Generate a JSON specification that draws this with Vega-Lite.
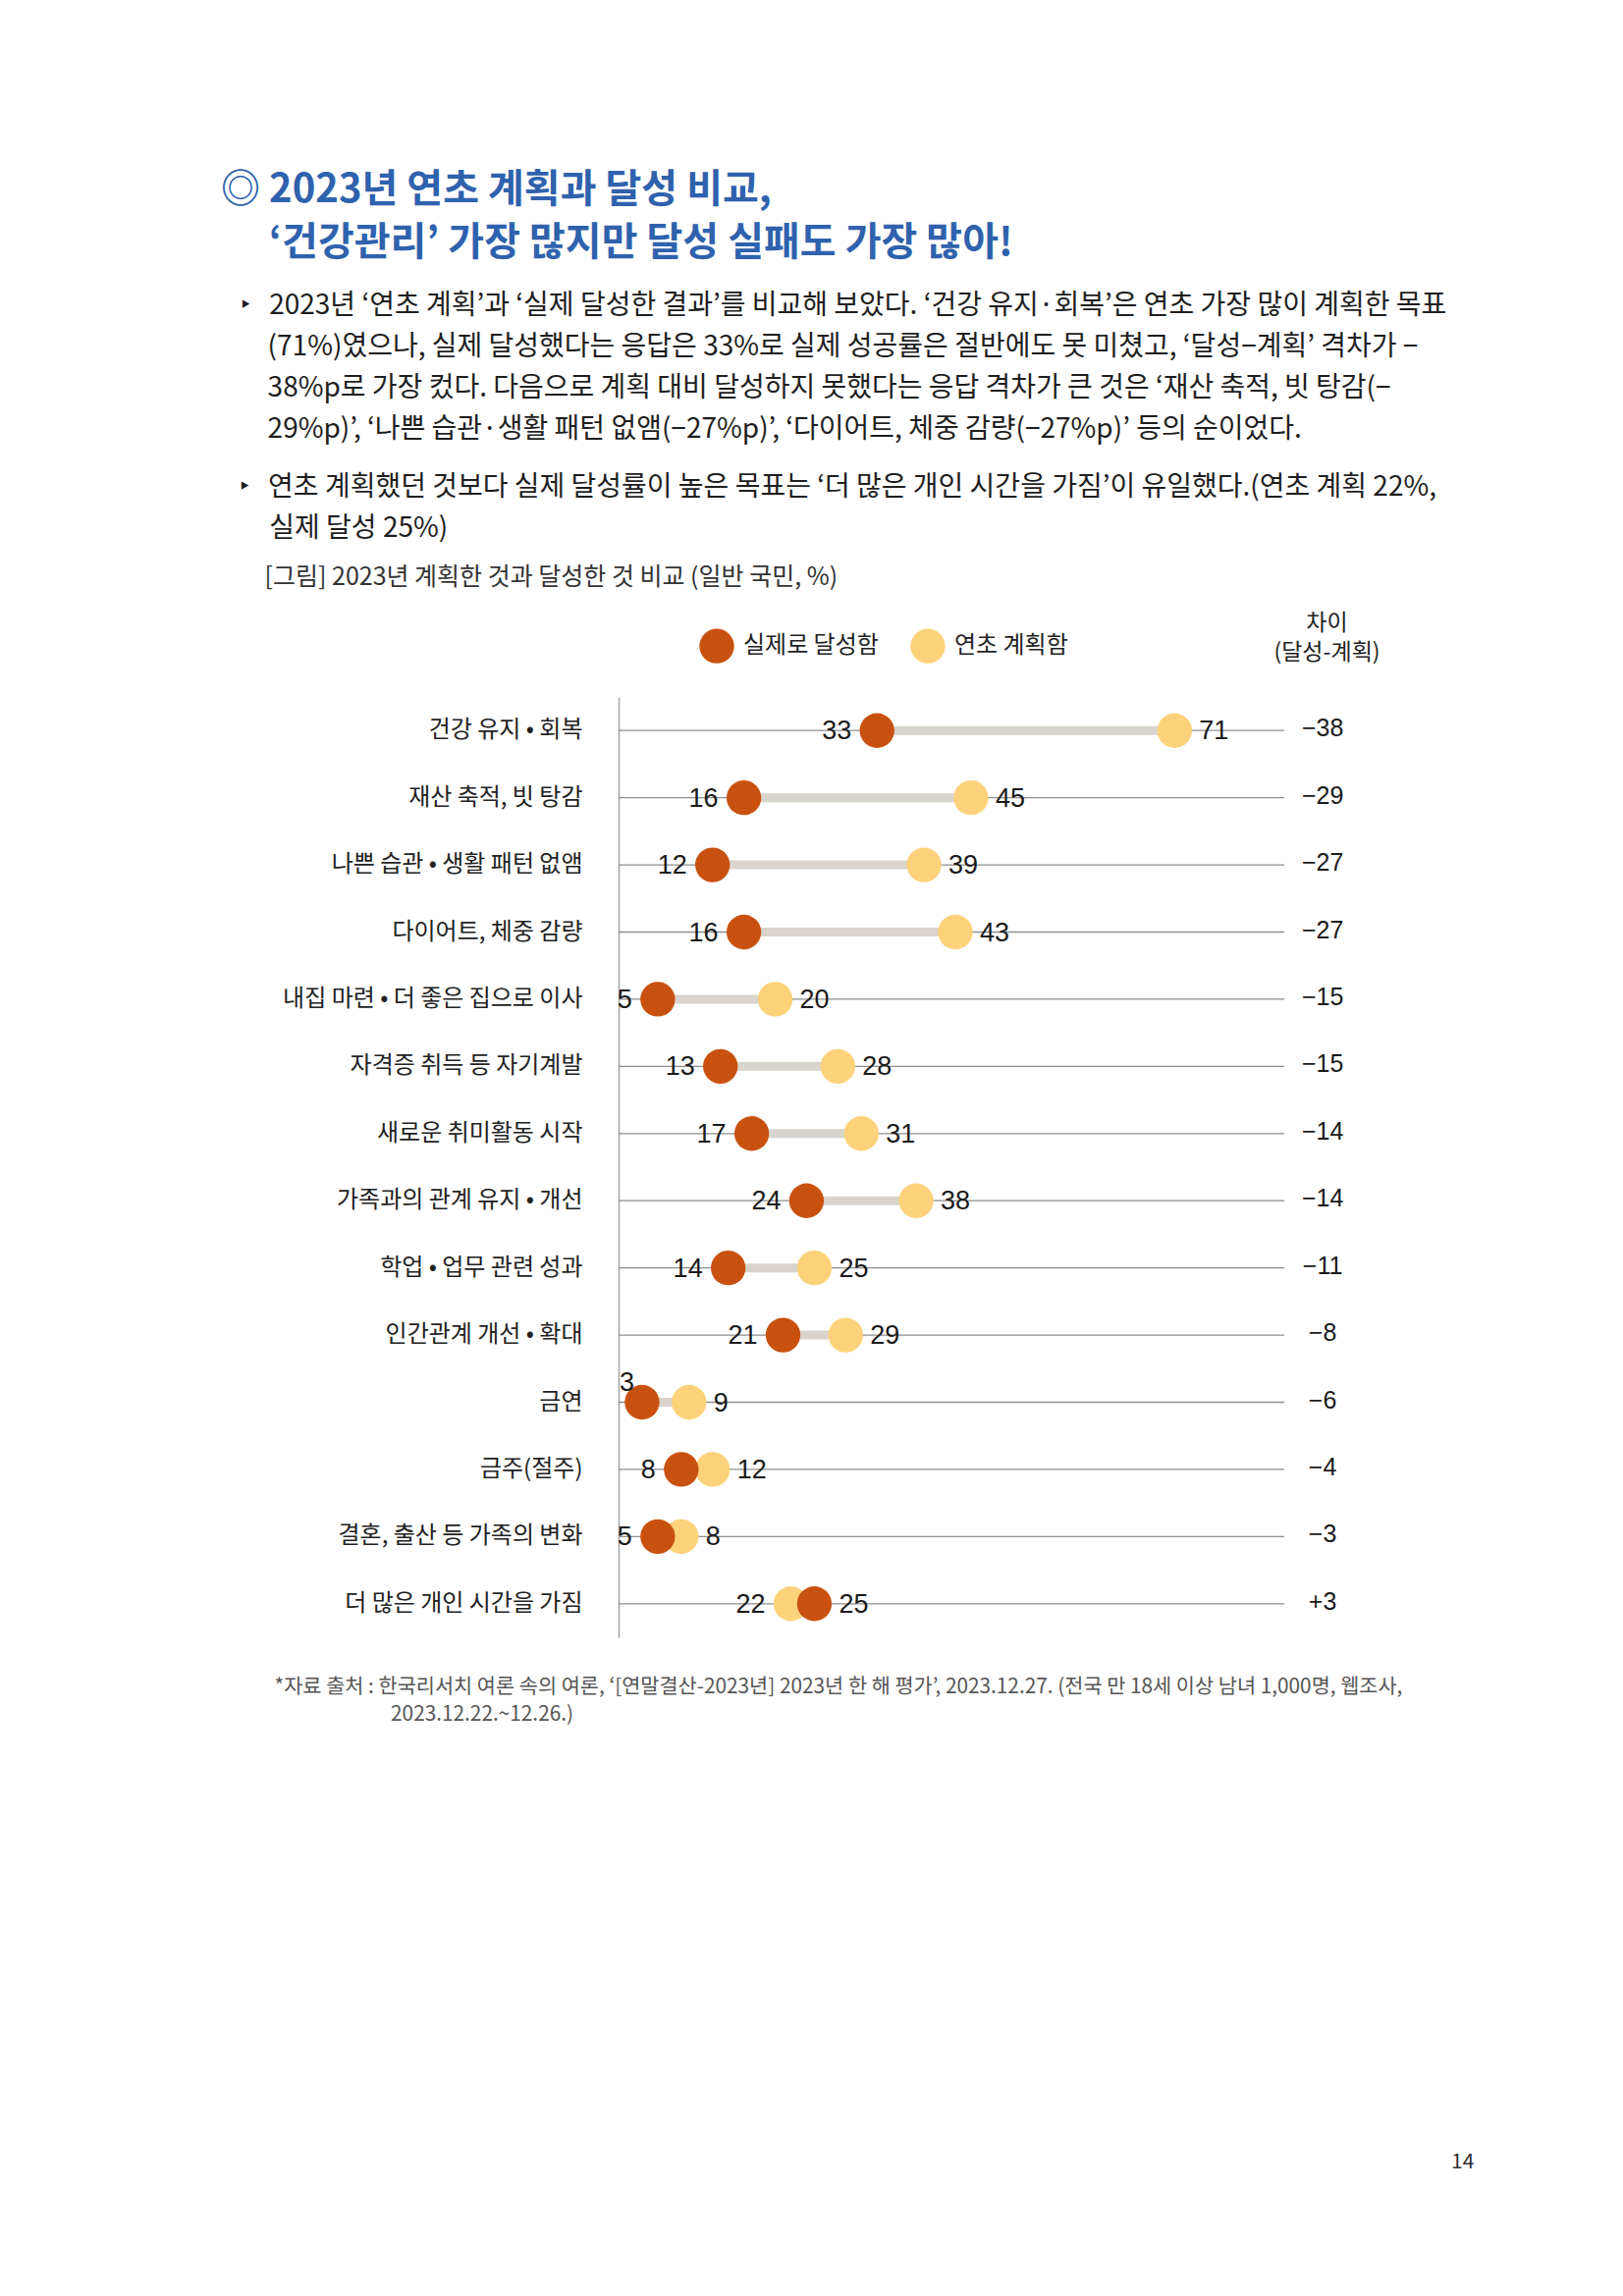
{
  "$schema": "https://vega.github.io/schema/vega-lite/v6.json",
  "width": 678,
  "height": 958,
  "autosize": "none",
  "padding": {"left": 630, "top": 710, "right": 345, "bottom": 671},
  "background": "#ffffff",
  "config": {"font": "Noto Sans CJK KR", "view": {"stroke": null}},
  "title": {
    "text": ["◎ 2023년 연초 계획과 달성 비교,", "\u200b\u3000\u00a0‘건강관리’ 가장 많지만 달성 실패도 가장 많아!"],
    "subtitle": [
      "\u200b\u2002\u2009‣\u2002\u20092023년 ‘연초 계획’과 ‘실제 달성한 결과’를 비교해 보았다. ‘건강 유지·회복’은 연초 가장 많이 계획한 목표",
      "\u200b\u2002\u2002\u2002\u2009(71%)였으나, 실제 달성했다는 응답은 33%로 실제 성공률은 절반에도 못 미쳤고, ‘달성−계획’ 격차가 −",
      "\u200b\u2002\u2002\u2002\u200938%p로 가장 컸다. 다음으로 계획 대비 달성하지 못했다는 응답 격차가 큰 것은 ‘재산 축적, 빗 탕감(−",
      "\u200b\u2002\u2002\u2002\u200929%p)’, ‘나쁜 습관·생활 패턴 없앰(−27%p)’, ‘다이어트, 체중 감량(−27%p)’ 등의 순이었다."
    ],
    "anchor": "start",
    "frame": "group",
    "dx": -405,
    "offset": 30,
    "font": "Noto Sans CJK KR",
    "fontSize": 40,
    "fontWeight": "bold",
    "color": "#2f62ad",
    "lineHeight": 54,
    "subtitleFont": "Noto Sans CJK KR",
    "subtitleFontSize": 28,
    "subtitleFontWeight": "normal",
    "subtitleColor": "#1e1e1e",
    "subtitleLineHeight": 42,
    "subtitlePadding": 30
  },
  "data": {
    "values": [
      {"item": "건강 유지 • 회복", "achieved": 33, "planned": 71, "diff": -38},
      {"item": "재산 축적, 빗 탕감", "achieved": 16, "planned": 45, "diff": -29},
      {"item": "나쁜 습관 • 생활 패턴 없앰", "achieved": 12, "planned": 39, "diff": -27},
      {"item": "다이어트, 체중 감량", "achieved": 16, "planned": 43, "diff": -27},
      {"item": "내집 마련 • 더 좋은 집으로 이사", "achieved": 5, "planned": 20, "diff": -15},
      {"item": "자격증 취득 등 자기계발", "achieved": 13, "planned": 28, "diff": -15},
      {"item": "새로운 취미활동 시작", "achieved": 17, "planned": 31, "diff": -14},
      {"item": "가족과의 관계 유지 • 개선", "achieved": 24, "planned": 38, "diff": -14},
      {"item": "학업 • 업무 관련 성과", "achieved": 14, "planned": 25, "diff": -11},
      {"item": "인간관계 개선 • 확대", "achieved": 21, "planned": 29, "diff": -8},
      {"item": "금연", "achieved": 3, "planned": 9, "diff": -6},
      {"item": "금주(절주)", "achieved": 8, "planned": 12, "diff": -4},
      {"item": "결혼, 출산 등 가족의 변화", "achieved": 5, "planned": 8, "diff": -3},
      {"item": "더 많은 개인 시간을 가짐", "achieved": 25, "planned": 22, "diff": 3}
    ]
  },
  "encoding": {
    "y": {
      "field": "item",
      "type": "nominal",
      "scale": {"type": "band", "paddingInner": 0, "paddingOuter": 0, "domain": ["건강 유지 • 회복", "재산 축적, 빗 탕감", "나쁜 습관 • 생활 패턴 없앰", "다이어트, 체중 감량", "내집 마련 • 더 좋은 집으로 이사", "자격증 취득 등 자기계발", "새로운 취미활동 시작", "가족과의 관계 유지 • 개선", "학업 • 업무 관련 성과", "인간관계 개선 • 확대", "금연", "금주(절주)", "결혼, 출산 등 가족의 변화", "더 많은 개인 시간을 가짐"]},
      "axis": null
    }
  },
  "resolve": {"axis": {"x": "independent", "y": "independent"}},
  "layer": [
    {
      "mark": {"type": "rule", "color": "#8e8e8e", "strokeWidth": 1.3},
      "encoding": {
        "y": {
          "field": "item",
          "type": "nominal",
          "scale": {"type": "band", "paddingInner": 0, "paddingOuter": 0, "domain": ["건강 유지 • 회복", "재산 축적, 빗 탕감", "나쁜 습관 • 생활 패턴 없앰", "다이어트, 체중 감량", "내집 마련 • 더 좋은 집으로 이사", "자격증 취득 등 자기계발", "새로운 취미활동 시작", "가족과의 관계 유지 • 개선", "학업 • 업무 관련 성과", "인간관계 개선 • 확대", "금연", "금주(절주)", "결혼, 출산 등 가족의 변화", "더 많은 개인 시간을 가짐"]},
          "axis": {
            "orient": "left",
            "domain": true,
            "domainColor": "#a3a3a3",
            "domainWidth": 1.5,
            "ticks": false,
            "tickSize": 0,
            "grid": false,
            "labelFont": "Noto Sans CJK KR",
            "labelFontSize": 24,
            "labelColor": "#222222",
            "labelPadding": 37,
            "labelLimit": 500,
            "title": "[그림] 2023년 계획한 것과 달성한 것 비교 (일반 국민, %)",
            "titleAngle": 0,
            "titleX": -361,
            "titleY": -123,
            "titleAlign": "left",
            "titleBaseline": "middle",
            "titleFont": "Noto Sans CJK KR",
            "titleFontSize": 25,
            "titleFontWeight": "normal",
            "titleColor": "#333333",
            "titleLimit": 2000
          }
        },
        "x": {
          "datum": 0,
          "type": "quantitative",
          "scale": {"domain": [0, 85], "nice": false, "zero": false},
          "axis": {
            "orient": "top",
            "domain": false,
            "ticks": false,
            "labels": false,
            "grid": false,
            "title": ["\u200b‣\u2002\u2009연초 계획했던 것보다 실제 달성률이 높은 목표는 ‘더 많은 개인 시간을 가짐’이 유일했다.(연초 계획 22%,", "\u200b\u2002\u2009\u2009\u2009실제 달성 25%)"],
            "titleX": -387,
            "titleY": -228,
            "titleAlign": "left",
            "titleBaseline": "top",
            "titleFont": "Noto Sans CJK KR",
            "titleFontSize": 28,
            "titleFontWeight": "normal",
            "titleColor": "#1e1e1e",
            "titleLineHeight": 42,
            "titleLimit": 2000
          }
        },
        "x2": {"datum": 85}
      }
    },
    {
      "mark": {"type": "rule", "color": "#d8d4cd", "strokeWidth": 9},
      "encoding": {
        "x": {"field": "achieved", "type": "quantitative", "axis": null},
        "x2": {"field": "planned"}
      }
    },
    {
      "mark": {"type": "circle", "size": 1250, "opacity": 1},
      "encoding": {
        "x": {"field": "planned", "type": "quantitative", "axis": null},
        "color": {
          "datum": "연초 계획함",
          "type": "nominal",
          "scale": {"domain": ["실제로 달성함", "연초 계획함"], "range": ["#c9510f", "#fdd27a"]},
          "legend": {
            "orient": "none",
            "legendX": 82,
            "legendY": -70,
            "direction": "horizontal",
            "title": null,
            "symbolType": "circle",
            "symbolSize": 1250,
            "symbolStrokeWidth": 0,
            "labelFont": "Noto Sans CJK KR",
            "labelFontSize": 24,
            "labelColor": "#222222",
            "labelOffset": 9,
            "columnPadding": 32,
            "padding": 0
          }
        }
      }
    },
    {
      "mark": {"type": "circle", "size": 1250, "opacity": 1},
      "encoding": {
        "x": {"field": "achieved", "type": "quantitative", "axis": null},
        "color": {"datum": "실제로 달성함", "type": "nominal"}
      }
    },
    {
      "transform": [{"filter": "datum.achieved < datum.planned && datum.item != '금연'"}],
      "mark": {"type": "text", "align": "right", "baseline": "middle", "dx": -26, "dy": 1, "font": "'Liberation Sans Narrow', 'Liberation Sans', sans-serif", "fontSize": 27, "color": "#1a1a1a"},
      "encoding": {
        "x": {"field": "achieved", "type": "quantitative", "axis": null},
        "text": {"field": "achieved", "type": "quantitative"}
      }
    },
    {
      "transform": [{"filter": "datum.achieved < datum.planned"}],
      "mark": {"type": "text", "align": "left", "baseline": "middle", "dx": 25, "dy": 1, "font": "'Liberation Sans Narrow', 'Liberation Sans', sans-serif", "fontSize": 27, "color": "#1a1a1a"},
      "encoding": {
        "x": {"field": "planned", "type": "quantitative", "axis": null},
        "text": {"field": "planned", "type": "quantitative"}
      }
    },
    {
      "transform": [{"filter": "datum.item == '금연'"}],
      "mark": {"type": "text", "align": "right", "baseline": "middle", "dx": -8, "dy": -20, "font": "'Liberation Sans Narrow', 'Liberation Sans', sans-serif", "fontSize": 27, "color": "#1a1a1a"},
      "encoding": {
        "x": {"field": "achieved", "type": "quantitative", "axis": null},
        "text": {"field": "achieved", "type": "quantitative"}
      }
    },
    {
      "transform": [{"filter": "datum.planned < datum.achieved"}],
      "mark": {"type": "text", "align": "right", "baseline": "middle", "dx": -26, "dy": 1, "font": "'Liberation Sans Narrow', 'Liberation Sans', sans-serif", "fontSize": 27, "color": "#1a1a1a"},
      "encoding": {
        "x": {"field": "planned", "type": "quantitative", "axis": null},
        "text": {"field": "planned", "type": "quantitative"}
      }
    },
    {
      "transform": [{"filter": "datum.planned < datum.achieved"}],
      "mark": {"type": "text", "align": "left", "baseline": "middle", "dx": 25, "dy": 1, "font": "'Liberation Sans Narrow', 'Liberation Sans', sans-serif", "fontSize": 27, "color": "#1a1a1a"},
      "encoding": {
        "x": {"field": "achieved", "type": "quantitative", "axis": null},
        "text": {"field": "achieved", "type": "quantitative"}
      }
    },
    {
      "mark": {"type": "text", "align": "center", "baseline": "middle", "dy": -2, "font": "'Liberation Sans Narrow', 'Liberation Sans', sans-serif", "fontSize": 25, "color": "#1a1a1a"},
      "encoding": {
        "y": {
          "field": "item",
          "type": "nominal",
          "scale": {"type": "band", "paddingInner": 0, "paddingOuter": 0, "domain": ["건강 유지 • 회복", "재산 축적, 빗 탕감", "나쁜 습관 • 생활 패턴 없앰", "다이어트, 체중 감량", "내집 마련 • 더 좋은 집으로 이사", "자격증 취득 등 자기계발", "새로운 취미활동 시작", "가족과의 관계 유지 • 개선", "학업 • 업무 관련 성과", "인간관계 개선 • 확대", "금연", "금주(절주)", "결혼, 출산 등 가족의 변화", "더 많은 개인 시간을 가짐"]},
          "axis": {
            "orient": "right",
            "domain": false,
            "ticks": false,
            "labels": false,
            "grid": false,
            "title": ["차이", "(달성-계획)"],
            "titleAngle": 0,
            "titleX": 43,
            "titleY": -87,
            "titleAlign": "center",
            "titleBaseline": "top",
            "titleFont": "Noto Sans CJK KR",
            "titleFontSize": 23,
            "titleFontWeight": "normal",
            "titleColor": "#222222",
            "titleLineHeight": 30,
            "titleLimit": 2000
          }
        },
        "x": {
          "datum": 89.9,
          "type": "quantitative",
          "axis": {
            "orient": "bottom",
            "domain": false,
            "ticks": false,
            "tickSize": 0,
            "grid": false,
            "values": [84.9],
            "labelExpr": "'14'",
            "labelFlush": false,
            "labelOverlap": false,
            "labelAlign": "center",
            "labelOffset": 182,
            "labelPadding": 523,
            "labelFont": "Noto Sans CJK KR",
            "labelFontSize": 21,
            "labelColor": "#333333",
            "title": ["*자료 출처 : 한국리서치 여론 속의 여론, ‘[연말결산-2023년] 2023년 한 해 평가’, 2023.12.27. (전국 만 18세 이상 남녀 1,000명, 웹조사,", "\u200b\u3000\u3000\u3000\u3000\u3000\u2002\u20092023.12.22.~12.26.)"],
            "titleX": -351,
            "titleY": 40,
            "titleAlign": "left",
            "titleBaseline": "top",
            "titleFont": "Noto Sans CJK KR",
            "titleFontSize": 20.8,
            "titleFontWeight": "normal",
            "titleColor": "#555555",
            "titleLineHeight": 28,
            "titleLimit": 2000
          }
        },
        "text": {"field": "diff", "type": "quantitative", "format": "+d"}
      }
    }
  ]
}
